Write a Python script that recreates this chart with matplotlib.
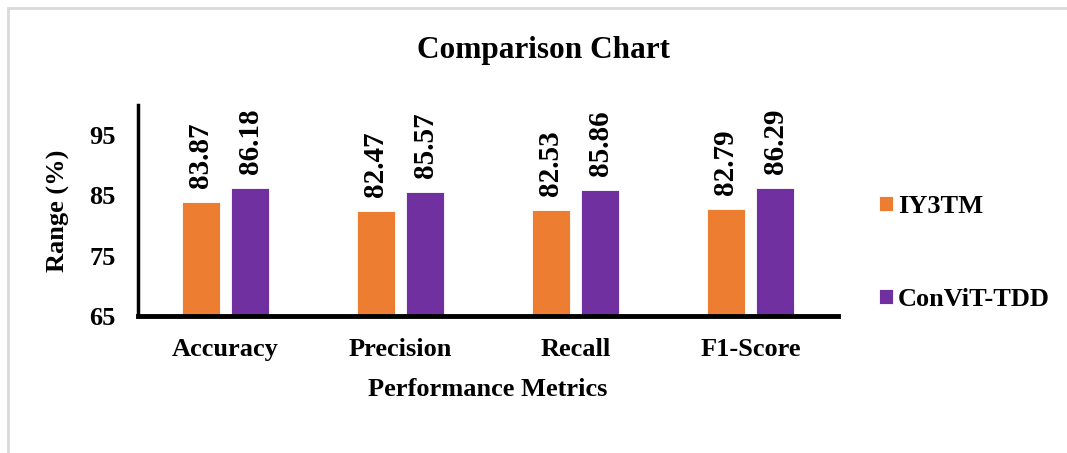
import numpy as np
import matplotlib
matplotlib.use("Agg")
import matplotlib.pyplot as plt
from matplotlib.patches import Rectangle

# metric scores (%) for the two models
metrics = ["Accuracy", "Precision", "Recall", "F1-Score"]
iy3tm = [83.87, 82.47, 82.53, 82.79]
convit_tdd = [86.18, 85.57, 85.86, 86.29]
yticks = [65, 75, 85, 95]

plt.rcParams["font.family"] = ["Liberation Serif", "DejaVu Serif"]
plt.rcParams["font.weight"] = "bold"

fig = plt.figure(figsize=(10.67, 4.53), dpi=100)
ax = fig.add_axes([0.1293, 0.3024, 0.6561, 0.4658])

# light frame round the whole chart area
fig.patches.append(Rectangle((8 / 1067, -0.1), 1.2, 1 - 8 / 453 + 0.1,
                             transform=fig.transFigure, fill=False,
                             edgecolor="#d9d9d9", linewidth=2))

x = np.arange(len(metrics))
w = 0.217
off = 0.142
b1 = ax.bar(x - off, np.array(iy3tm) - 65, w, bottom=65, color="#ED7D31",
            edgecolor="white", linewidth=0.6, label="IY3TM")
b2 = ax.bar(x + off, np.array(convit_tdd) - 65, w, bottom=65, color="#7030A0",
            edgecolor="white", linewidth=0.6, label="ConViT-TDD")

for bars, vals in ((b1, iy3tm), (b2, convit_tdd)):
    for r, v in zip(bars, vals):
        ax.text(r.get_x() + r.get_width() / 2, v + 2.3, f"{v:.2f}",
                rotation=90, ha="center", va="bottom", fontsize=21,
                fontweight="bold")

ax.set_xlim(-0.5, 3.5)
ax.set_ylim(65, 100)
ax.set_yticks(yticks)
ax.set_xticks(x)
ax.set_xticklabels(metrics)
ax.tick_params(axis="both", length=0, labelsize=19)
ax.tick_params(axis="x", pad=16)
ax.tick_params(axis="y", pad=16)
for s in ("top", "right"):
    ax.spines[s].set_visible(False)
ax.spines["left"].set_linewidth(2.5)
ax.spines["bottom"].set_linewidth(3.5)

ax.set_xlabel("Performance Metrics", fontsize=19, fontweight="bold", labelpad=12)
ax.set_ylabel("Range (%)", fontsize=19, fontweight="bold", labelpad=14)
fig.text(0.509, 0.889, "Comparison Chart", ha="center", va="center",
         fontsize=22.5, fontweight="bold")

fig.legend(handles=[b1, b2], loc="center left", bbox_to_anchor=(0.802, 0.441),
           frameon=False, fontsize=19, handlelength=0.5, handleheight=0.5,
           handletextpad=0.2, labelspacing=2.65)

fig.savefig("out.png", dpi=100)
